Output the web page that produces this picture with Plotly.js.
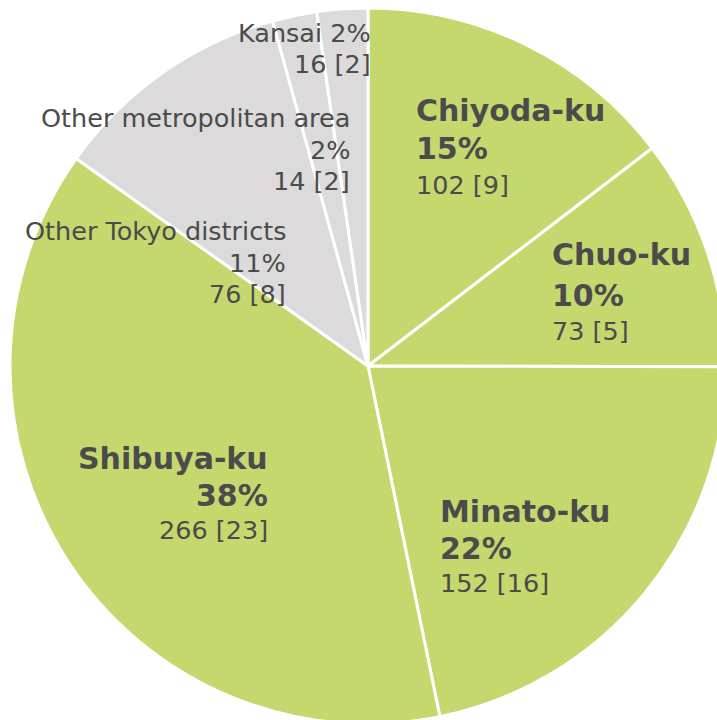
<!DOCTYPE html>
<html>
<head>
<meta charset="utf-8">
<script src="https://cdn.plot.ly/plotly-3.0.1.min.js"></script>
<style>
html, body { margin:0; padding:0; width:717px; height:720px; overflow:hidden; background:#ffffff; }
#chart { position:absolute; left:10px; top:8px; width:716px; height:716px; }
</style>
</head>
<body>
<div id="chart"></div>
<script>
// ---- data ----
const categories = ['Chiyoda-ku', 'Chuo-ku', 'Minato-ku', 'Shibuya-ku', 'Other Tokyo districts', 'Other metropolitan area', 'Kansai'];
const counts = [102, 73, 152, 266, 76, 14, 16];
const subCounts = [9, 5, 16, 23, 8, 2, 2];
const highlighted = [true, true, true, true, false, false, false];

// ---- style ----
const GREEN = '#C4D86E';
const GRAY = '#DCDADB';
const TEXT = '#4B4B4B';
const FONT = 'DejaVu Sans, Verdana, sans-serif';
const W = 716, H = 716, OX = 10, OY = 8;

const total = counts.reduce((a, b) => a + b, 0);
const pct = counts.map(c => Math.round(c / total * 100) + '%');

// label placement (window pixels): anchor x, line centre ys, side
const place = [
  {x: 416, ys: [111, 149, 185], side: 'left'},
  {x: 552, ys: [255, 295, 331], side: 'left'},
  {x: 440, ys: [511, 548, 583], side: 'left'},
  {x: 268, ys: [458, 495, 530], side: 'right'},
  {x: 286, ys: [231, 263, 294], side: 'right'},
  {x: 350, ys: [118, 150, 181], side: 'right'},
  {x: 371, ys: [33, 64], side: 'right'}
];
const PADFIX = 2; // annotation box padding compensation

const BOLD = 30, REG = 25.5;
const annotations = [];
categories.forEach((cat, i) => {
  let lines;
  const countLine = counts[i] + ' [' + subCounts[i] + ']';
  if (highlighted[i]) {
    lines = [
      {t: '<b>' + cat + '</b>', size: BOLD},
      {t: '<b>' + pct[i] + '</b>', size: BOLD},
      {t: countLine, size: REG}
    ];
  } else if (place[i].ys.length === 2) {
    lines = [
      {t: cat + ' ' + pct[i], size: REG},
      {t: countLine, size: REG}
    ];
  } else {
    lines = [
      {t: cat, size: REG},
      {t: pct[i], size: REG},
      {t: countLine, size: REG}
    ];
  }
  const px = place[i].x + (place[i].side === 'left' ? -PADFIX : PADFIX);
  lines.forEach((ln, k) => {
    annotations.push({
      xref: 'paper', yref: 'paper',
      x: (px - OX) / W,
      y: 1 - (place[i].ys[k] - OY) / H,
      xanchor: place[i].side, yanchor: 'middle',
      align: place[i].side,
      text: ln.t, showarrow: false,
      font: {family: FONT, size: ln.size, color: TEXT}
    });
  });
});

const trace = {
  type: 'pie',
  labels: categories,
  values: counts,
  sort: false,
  direction: 'clockwise',
  rotation: 0,
  textinfo: 'none',
  hoverinfo: 'label+value+percent',
  marker: {
    colors: highlighted.map(h => h ? GREEN : GRAY),
    line: {color: '#ffffff', width: 3}
  },
  domain: {x: [0, 1], y: [0, 1]}
};

const layout = {
  width: W, height: H,
  margin: {l: 0, r: 0, t: 0, b: 0, pad: 0},
  showlegend: false,
  paper_bgcolor: 'rgba(0,0,0,0)',
  plot_bgcolor: 'rgba(0,0,0,0)',
  annotations: annotations
};

Plotly.newPlot('chart', [trace], layout, {displayModeBar: false, staticPlot: true});
</script>
</body>
</html>
